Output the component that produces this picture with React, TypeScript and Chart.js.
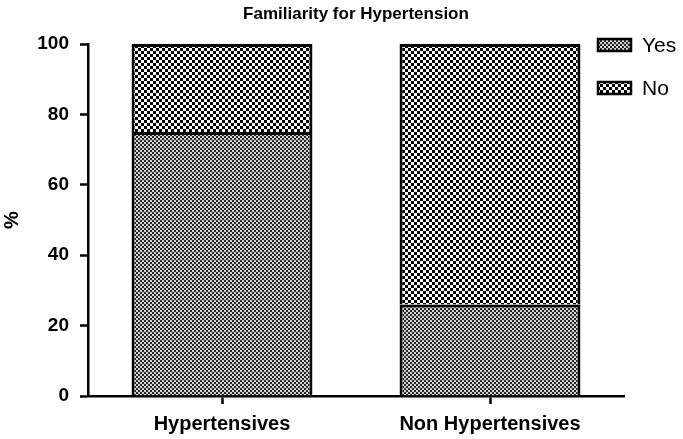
import React, { useEffect, useRef } from "react";
import { Chart, registerables } from "chart.js";

Chart.register(...registerables);

const categories = ["Hypertensives", "Non Hypertensives"];
const seriesNames = ["Yes", "No"];
const yesValues = [75, 26];
const noValues = [25, 74];
const yMin = 0;
const yMax = 100;
const yStep = 20;
const chartTitle = "Familiarity for Hypertension";
const yAxisTitle = "%";

const FONT = "'Liberation Sans', Arial, Helvetica, sans-serif";

function makeFinePattern(): CanvasPattern | string {
  const c = document.createElement("canvas");
  c.width = 4;
  c.height = 4;
  const ctx = c.getContext("2d");
  if (!ctx) return "#888";
  ctx.fillStyle = "#cfcfcf";
  ctx.fillRect(0, 0, 4, 4);
  ctx.fillStyle = "#2a2a2a";
  ctx.fillRect(0, 0, 2, 2);
  ctx.fillRect(2, 2, 2, 2);
  return ctx.createPattern(c, "repeat") || "#888";
}

function makeCoarsePattern(): CanvasPattern | string {
  const c = document.createElement("canvas");
  c.width = 6;
  c.height = 6;
  const ctx = c.getContext("2d");
  if (!ctx) return "#777";
  ctx.fillStyle = "#ffffff";
  ctx.fillRect(0, 0, 6, 6);
  ctx.fillStyle = "#000000";
  ctx.fillRect(0, 0, 3, 3);
  ctx.fillRect(3, 3, 3, 3);
  return ctx.createPattern(c, "repeat") || "#777";
}

const decorPlugin = {
  id: "decor",
  afterDraw(chart: any) {
    const ctx = chart.ctx;
    const area = chart.chartArea;
    ctx.save();
    // title centred over the plot area
    ctx.fillStyle = "#000";
    ctx.font = `bold 17px ${FONT}`;
    ctx.textAlign = "center";
    ctx.textBaseline = "middle";
    ctx.fillText(chartTitle, (area.left + area.right) / 2, 14);
    // legend
    const x0 = 598;
    const ys = [45, 88];
    chart.data.datasets.forEach((ds: any, i: number) => {
      const y = ys[i];
      ctx.fillStyle = ds.backgroundColor;
      ctx.fillRect(x0, y - 6, 33, 12);
      ctx.lineWidth = 2.5;
      ctx.strokeStyle = "#000";
      ctx.strokeRect(x0, y - 6, 33, 12);
      ctx.fillStyle = "#000";
      ctx.font = `21px ${FONT}`;
      ctx.textBaseline = "middle";
      ctx.textAlign = "left";
      ctx.fillText(ds.label, 642, y + 1);
    });
    ctx.restore();
  },
};

export default function App() {
  const ref = useRef<HTMLCanvasElement | null>(null);

  useEffect(() => {
    document.body.style.margin = "0";
    const canvas = ref.current;
    if (!canvas) return;
    const chart = new Chart(canvas, {
      type: "bar",
      data: {
        labels: categories,
        datasets: [
          {
            label: seriesNames[0],
            data: yesValues,
            backgroundColor: makeFinePattern() as any,
            borderColor: "#000",
            borderWidth: 3,
            categoryPercentage: 1,
            barPercentage: 0.675,
          },
          {
            label: seriesNames[1],
            data: noValues,
            backgroundColor: makeCoarsePattern() as any,
            borderColor: "#000",
            borderWidth: 3,
            categoryPercentage: 1,
            barPercentage: 0.675,
          },
        ],
      },
      options: {
        responsive: true,
        maintainAspectRatio: false,
        animation: false,
        layout: { padding: { left: 0, right: 59, top: 44, bottom: 0 } },
        plugins: {
          legend: { display: false },
          tooltip: { enabled: false },
          title: { display: false },
        },
        scales: {
          x: {
            stacked: true,
            afterFit: (s: any) => {
              s.height = 43;
            },
            border: { display: true, color: "#000", width: 2.5 },
            grid: {
              display: true,
              drawOnChartArea: false,
              drawTicks: true,
              tickLength: 8,
              tickWidth: 2.5,
              tickColor: "#000",
              offset: false,
            },
            ticks: {
              color: "#000",
              padding: 8,
              font: { family: FONT, size: 20, weight: "bold" },
            },
          },
          y: {
            stacked: true,
            min: yMin,
            max: yMax,
            afterFit: (s: any) => {
              s.width = 88;
            },
            border: { display: true, color: "#000", width: 2.5 },
            grid: {
              display: true,
              drawOnChartArea: false,
              drawTicks: true,
              tickLength: 8,
              tickWidth: 2.5,
              tickColor: "#000",
            },
            ticks: {
              stepSize: yStep,
              color: "#000",
              padding: 11,
              font: { family: FONT, size: 19, weight: "bold" },
            },
            title: {
              display: true,
              text: yAxisTitle,
              color: "#000",
              padding: { top: 0, bottom: 0 },
              font: { family: FONT, size: 20, weight: "bold" },
            },
          },
        },
      },
      plugins: [decorPlugin],
    });
    return () => chart.destroy();
  }, []);

  return (
    <div style={{ position: "fixed", left: 0, top: 0, width: 683, height: 439, background: "#fff" }}>
      <canvas ref={ref} />
    </div>
  );
}
